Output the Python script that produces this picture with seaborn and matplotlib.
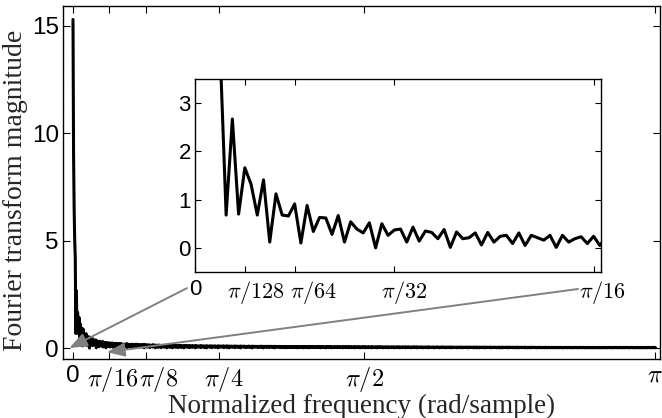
import numpy as np
import pandas as pd
import matplotlib
matplotlib.use("Agg")
import matplotlib.pyplot as plt
import matplotlib.transforms as mtransforms
import seaborn as sns

# ---- data: DFT magnitude, bins k = 0..N/2 of a 2048-point transform ----
n_fft = 2048
head_vals = [15.3, 9.0, 6.5, 5.0, 4.2,
             0.68, 2.67, 0.70, 1.66, 1.32, 0.68, 1.41, 0.12, 1.12, 0.68,
             0.66, 0.91, 0.10, 0.88, 0.34, 0.63, 0.62, 0.28, 0.67, 0.12,
             0.54, 0.39, 0.31, 0.52, 0.00, 0.50, 0.26, 0.37, 0.39, 0.12,
             0.43, 0.14, 0.35, 0.32, 0.19, 0.38, 0.01, 0.33, 0.19, 0.21,
             0.31, 0.06, 0.32, 0.12, 0.24, 0.26, 0.09, 0.31, 0.05, 0.26,
             0.21, 0.16, 0.26, 0.01, 0.26, 0.12, 0.19, 0.23, 0.09, 0.24, 0.05]

# tail values in hundredths (band near zero in the main panel)
tail_a = [22, 8, 19, 24, 4, 21, 13, 18, 20, 2, 22, 11, 17, 19, 6, 20, 9, 15, 21, 3,
          18, 12, 16, 19, 5, 17, 10, 14, 20, 2, 19, 8, 15, 17, 6, 16, 11, 13, 18, 1,
          17, 9, 14, 16, 4, 18, 7, 12, 17, 3, 15, 10, 13, 16, 5, 14, 8, 12, 17, 1,
          16, 9, 11, 15, 4, 14, 7, 13, 15, 2, 13, 9, 11, 14, 5, 15, 6, 10, 14, 1,
          13, 8, 12, 13, 3, 14, 7, 10, 13, 2, 12, 8, 11, 12, 4, 13, 6, 9, 12, 1]
tail_b = [12, 7, 10, 13, 3, 11, 6, 9, 12, 1, 11, 8, 10, 12, 4, 12, 5, 9, 11, 2,
          10, 7, 11, 12, 3, 10, 6, 8, 11, 1, 12, 7, 9, 10, 4, 11, 5, 8, 11, 2,
          10, 6, 9, 11, 3, 10, 7, 8, 10, 1, 11, 5, 9, 10, 4, 9, 6, 8, 11, 2,
          10, 7, 8, 10, 3, 9, 5, 9, 10, 1, 10, 6, 8, 9, 4, 10, 5, 7, 10, 2,
          9, 7, 8, 10, 3, 9, 6, 7, 9, 1, 10, 5, 8, 9, 4, 9, 6, 7, 10, 2,
          9, 6, 8, 9, 3, 10, 5, 7, 9, 1, 9, 6, 7, 9, 4, 8, 5, 8, 9, 2,
          9, 6, 7, 9, 3, 8, 5, 7, 9, 1, 9, 6, 8, 8, 4, 9, 5, 7, 8, 2,
          8, 6, 7, 9, 3, 8, 5, 7, 8, 1, 9, 5, 7, 8, 4, 8, 6, 6, 8, 2,
          8, 5, 7, 8, 3, 9, 5, 6, 8, 1, 8, 6, 7, 8, 3, 8, 5, 6, 8, 2,
          8, 6, 6, 8, 3, 7, 5, 7, 8, 1, 8, 5, 6, 7, 4, 8, 5, 6, 7, 2]
tail_c = [7, 4, 6, 7, 2, 7, 5, 6, 7, 1, 7, 4, 6, 7, 3, 7, 5, 5, 7, 2,
          6, 5, 6, 7, 2, 7, 4, 6, 7, 1, 7, 5, 5, 6, 3, 7, 4, 6, 7, 1,
          7, 4, 5, 7, 2, 6, 5, 6, 7, 1, 6, 4, 6, 6, 3, 7, 4, 5, 6, 2,
          6, 5, 5, 7, 2, 6, 4, 6, 6, 1, 7, 4, 5, 6, 3, 6, 5, 5, 6, 1,
          6, 4, 6, 6, 2, 7, 4, 5, 6, 1, 6, 5, 5, 6, 3, 6, 4, 5, 6, 2,
          6, 4, 5, 6, 2, 6, 5, 5, 6, 1, 6, 4, 5, 6, 3, 6, 4, 5, 6, 1,
          6, 4, 5, 6, 2, 5, 4, 5, 6, 1, 6, 4, 5, 5, 2, 6, 4, 5, 6, 1,
          5, 4, 5, 6, 2, 6, 4, 4, 6, 1, 5, 4, 5, 6, 2, 5, 4, 5, 5, 1,
          6, 4, 5, 5, 2, 5, 4, 5, 6, 1, 5, 3, 5, 5, 2, 6, 4, 4, 5, 1,
          5, 4, 5, 5, 2, 5, 3, 5, 5, 1, 5, 4, 4, 5, 2, 5, 4, 5, 5, 1]
tail_d = [5, 4, 4, 5, 2, 5, 3, 5, 5, 1, 5, 4, 4, 5, 2, 5, 3, 4, 5, 1,
          5, 3, 4, 5, 2, 5, 4, 4, 5, 1, 4, 3, 5, 5, 2, 5, 3, 4, 5, 1,
          5, 3, 4, 4, 2, 5, 3, 4, 5, 1, 4, 3, 4, 5, 2, 4, 3, 4, 5, 1,
          5, 3, 4, 4, 2, 4, 3, 4, 5, 1, 4, 3, 4, 4, 2, 5, 3, 4, 4, 1,
          4, 3, 4, 5, 2, 4, 3, 4, 4, 1, 4, 3, 4, 4, 2, 4, 3, 4, 5, 1,
          4, 3, 4, 4, 2, 4, 3, 3, 4, 1, 4, 3, 4, 4, 2, 4, 3, 4, 4, 1,
          4, 3, 3, 4, 2, 4, 3, 4, 4, 1, 4, 2, 4, 4, 2, 4, 3, 3, 4, 1,
          4, 3, 4, 4, 1, 4, 3, 3, 4, 1, 4, 3, 3, 4, 2, 4, 2, 4, 4, 1,
          4, 3, 3, 4, 2, 3, 3, 4, 4, 1, 4, 2, 3, 4, 2, 4, 3, 3, 4, 1,
          3, 3, 4, 4, 1, 4, 2, 3, 4, 1, 4, 3, 3, 3, 2, 4, 3, 3, 4, 1,
          4, 2, 3, 4, 2, 3, 3, 3, 4, 1, 3, 3, 3, 4, 1, 4, 2, 3, 4, 1,
          3, 3, 3, 4, 2, 3, 2, 3, 4, 1, 4, 3, 3, 3, 1, 3, 2, 3, 4, 1,
          3, 2, 3, 4, 2, 3, 3, 3, 3, 1, 3, 2, 3, 4, 1, 3, 3, 3, 3, 1,
          3, 2, 3, 3, 1, 4, 2, 3, 3, 1, 3, 3, 3, 3, 1, 3, 2, 3, 3, 1,
          3, 2, 3, 3, 1, 3, 2, 3, 3, 1, 3, 2, 3, 3, 1, 3, 2, 2, 3, 1,
          3, 2, 3, 3, 1, 3, 2, 3, 3, 1, 3, 2, 2, 3, 1, 3, 2, 3, 3, 1,
          3, 2, 2, 3, 1, 3, 2, 3, 3, 1, 3, 2, 3, 3, 1, 3, 2, 2, 3, 1,
          3, 2, 3, 3, 1, 3, 2, 2, 3, 1, 3, 2, 3, 3, 1, 3, 2, 2, 3, 1,
          3, 2, 2, 3, 1, 3, 2, 3, 3, 1, 3, 2, 2, 3, 1, 3, 2, 3, 3, 1,
          3, 2, 2, 3, 1, 3, 2, 3, 3, 1, 3, 2, 2, 3, 1, 3, 2, 3, 3, 1,
          3, 2, 2, 3, 1, 3, 2, 3, 3, 1, 3, 2, 2, 3, 1, 3, 2, 3, 3, 1,
          3, 2, 2, 3, 1, 3, 2, 3, 3, 1, 3, 2, 2, 3, 1, 3, 2, 3, 3, 1,
          3, 2, 2, 3, 1, 3, 2, 3, 3, 1, 3, 2, 2, 3, 1, 3, 2, 3, 3, 1]

main_xticks = [0, np.pi / 16, np.pi / 8, np.pi / 4, np.pi / 2, np.pi]
main_xticklabels = ["0", r"$\pi/16$", r"$\pi/8$", r"$\pi/4$", r"$\pi/2$", r"$\pi$"]
main_yticks = [0, 5, 10, 15]
inset_xticks = [0, np.pi / 128, np.pi / 64, np.pi / 32, np.pi / 16]
inset_xticklabels = ["0", r"$\pi/128$", r"$\pi/64$", r"$\pi/32$", r"$\pi/16$"]
inset_yticks = [0, 1, 2, 3]

mag = np.array(head_vals + [v / 100 for v in tail_a + tail_b + tail_c + tail_d])
freq = np.arange(len(mag)) * 2 * np.pi / n_fft
df = pd.DataFrame({"freq": freq, "mag": mag})

# ---- style ----
sns.set_theme(style="ticks")
plt.rcParams["font.family"] = ["Liberation Sans", "DejaVu Sans"]
plt.rcParams["mathtext.fontset"] = "cm"
plt.rcParams["xtick.direction"] = "in"
plt.rcParams["ytick.direction"] = "in"

TICK_FS = 17.5
INSET_FS = 16
LABEL_FS = 20

fig = plt.figure(figsize=(6.62, 4.18), dpi=100)
ax = fig.add_axes([63 / 662, 1 - 359 / 418, 597 / 662, 353 / 418])

sns.lineplot(data=df, x="freq", y="mag", ax=ax, color="black", linewidth=2.2,
             estimator=None, sort=False)
ax.set_xlim(-0.054, np.pi + 0.027)
ax.set_ylim(-0.51, 15.93)
ax.set_xticks(main_xticks)
ax.set_xticklabels(main_xticklabels)
ax.set_yticks(main_yticks)
ax.tick_params(axis="both", which="both", direction="in", top=True, right=True,
               length=5, width=0.8, labelsize=TICK_FS, color="black", labelcolor="black")
ax.tick_params(axis="x", pad=4)
ax.tick_params(axis="y", pad=3)
for s in ax.spines.values():
    s.set_visible(True)
    s.set_linewidth(1.0)
    s.set_color("black")
ax.set_xlabel("Normalized frequency (rad/sample)", family="Liberation Serif",
              fontsize=19.5, labelpad=0)
ax.set_ylabel("Fourier transform magnitude", family="Liberation Serif",
              fontsize=LABEL_FS)
ax.yaxis.set_label_coords(-0.058, 0.479)

# gray arrows from the inset tick labels to the zoomed range
arrow_kw = dict(arrowstyle="-|>,head_length=0.9,head_width=0.35", color="#808080",
                lw=1.4, shrinkA=0, shrinkB=0)
ax.annotate("", xy=(-0.02, 0.0), xytext=(0.615, 2.79), arrowprops=arrow_kw,
            annotation_clip=False)
ax.annotate("", xy=(0.1835, -0.19), xytext=(2.726, 2.75), arrowprops=arrow_kw,
            annotation_clip=False)

# ---- inset ----
ins = fig.add_axes([195 / 662, 1 - 272 / 418, 406 / 662, 193 / 418])
sns.lineplot(data=df, x="freq", y="mag", ax=ins, color="black", linewidth=2.2,
             estimator=None, sort=False)
ins.set_xlim(0, 0.2)
ins.set_ylim(-0.5, 3.5)
ins.set_xticks(inset_xticks)
ins.set_xticklabels(inset_xticklabels)
ins.set_yticks(inset_yticks)
ins.set_xlabel("")
ins.set_ylabel("")
ins.tick_params(axis="both", which="both", direction="in", top=True, right=True,
                length=4, width=0.8, labelsize=INSET_FS, color="black", labelcolor="black")
ins.tick_params(axis="x", pad=5)
ins.tick_params(axis="y", pad=3)
for s in ins.spines.values():
    s.set_visible(True)
    s.set_linewidth(1.0)
    s.set_color("black")

# small horizontal nudges of tick labels (pixels), as placed in the reference
def nudge(axis_obj, shifts):
    for lab, dx in zip(axis_obj.get_xticklabels(), shifts):
        lab.set_transform(lab.get_transform() +
                          mtransforms.ScaledTranslation(dx / 100, 0, fig.dpi_scale_trans))

nudge(ax, [0, 3, 13, 5, 0, 0])
nudge(ins, [0, 11, 19, 10, 9])

fig.savefig("out.png", dpi=100)
